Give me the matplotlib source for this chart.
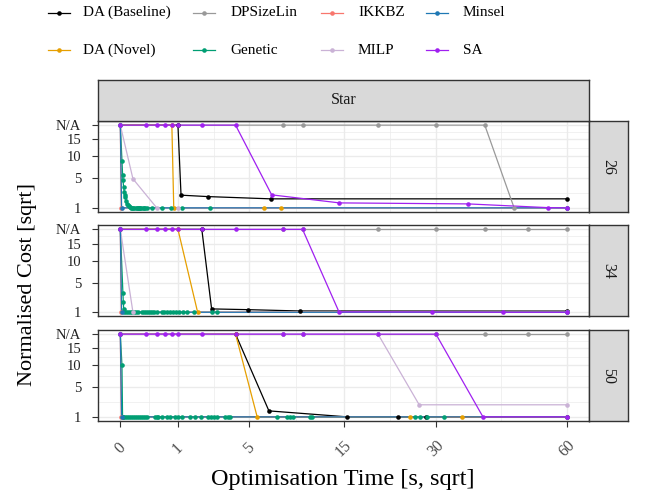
import numpy as np
import matplotlib.pyplot as plt
from matplotlib.lines import Line2D

plt.rcParams['font.family'] = ['Liberation Serif', 'DejaVu Serif']

# None = no result yet (shown as N/A)
algos = ["DA (Baseline)", "DA (Novel)", "DPSizeLin", "Genetic",
         "IKKBZ", "MILP", "Minsel", "SA"]
colors = {"DA (Baseline)": "#000000", "DA (Novel)": "#E69F00",
          "DPSizeLin": "#999999", "Genetic": "#009E73",
          "IKKBZ": "#F8766D", "MILP": "#CAB2D6",
          "Minsel": "#1F78B4", "SA": "#A020F0"}
facets = ["26", "34", "50"]
NA_LEVEL = 20

time_26 = {
    "DA (Baseline)": [0, 1.0, 1.11, 2.31, 6.83, 60],
    "DA (Novel)": [0, 0.8, 0.86, 6.2, 7.73, 60],
    "DPSizeLin": [0, 8, 10, 20, 30, 40, 46.7, 60],
    "Genetic": [0, 0.0008, 0.0016, 0.0021, 0.0033, 0.0048, 0.0056, 0.0075,
                0.0108, 0.0135, 0.0178, 0.021, 0.026, 0.032, 0.04, 0.05,
                0.06, 0.07, 0.08, 0.09, 0.1, 0.11, 0.12, 0.135, 0.15, 0.17,
                0.19, 0.21, 0.30, 0.52, 0.78, 1.16, 2.43],
    "IKKBZ": [0, 0.0003, 60],
    "MILP": [0, 0.048, 0.40, 1.0, 60],
    "Minsel": [0, 0.0005, 60],
    "SA": [0, 0.2, 0.4, 0.6, 0.8, 1, 2, 4, 6.9, 14.46, 36.4, 55, 60],
}
cost_26 = {
    "DA (Baseline)": [None, None, 2.35, 2.17, 1.90, 1.90],
    "DA (Novel)": [None, None, 1, 1, 1, 1],
    "DPSizeLin": [None, None, None, None, None, None, 1, 1],
    "Genetic": [None, 8.9, 5.63, 4.73, 3.49, 2.80, 2.43, 2.10, 1.64, 1.36,
                1.24, 1.15, 1.06, 1.02, 1, 1, 1, 1, 1, 1, 1, 1, 1, 1, 1, 1,
                1, 1, 1, 1, 1, 1, 1],
    "IKKBZ": [None, 1, 1],
    "MILP": [None, 4.92, 1, 1, 1],
    "Minsel": [None, 1, 1],
    "SA": [None, None, None, None, None, None, None, None,
           2.39, 1.46, 1.36, 1.02, 1.0],
}

time_34 = {
    "DA (Baseline)": [0, 2.0, 2.51, 4.90, 9.67, 60],
    "DA (Novel)": [0, 1.0, 1.80, 60],
    "DPSizeLin": [0, 8, 10, 20, 30, 40, 50, 60],
    "Genetic": [0, 0.002, 0.0027, 0.0035, 0.0048, 0.0108, 0.019, 0.030,
                0.043, 0.059, 0.077, 0.097, 0.142, 0.173, 0.203, 0.236, 0.27,
                0.31, 0.35, 0.405, 0.523, 0.582, 0.664, 0.752, 0.845, 0.943,
                1.047, 1.193, 1.338, 1.616, 2.527, 2.81],
    "IKKBZ": [0, 0.0003, 60],
    "MILP": [0, 0.048, 60],
    "Minsel": [0, 0.0005, 60],
    "SA": [0, 0.2, 0.4, 0.6, 0.8, 1, 2, 4, 8, 10, 14.4, 29.2, 44, 60],
}
cost_34 = {
    "DA (Baseline)": [None, None, 1.30, 1.23, 1.11, 1.10],
    "DA (Novel)": [None, None, 1, 1],
    "DPSizeLin": [None] * 8,
    "Genetic": [None, 3.31, 2.01, 1.26] + [1] * 28,
    "IKKBZ": [None, 1, 1],
    "MILP": [None, 1, 1],
    "Minsel": [None, 1, 1],
    "SA": [None] * 10 + [1.03, 1.02, 1.0, 1.0],
}

time_50 = {
    "DA (Baseline)": [0, 4, 6.65, 15.5, 23.3, 28.1, 60],
    "DA (Novel)": [0, 4, 5.64, 25.3, 35.1, 60],
    "DPSizeLin": [0, 8, 10, 20, 30, 40, 50, 60],
    "Genetic": [0, 0.0008, 0.0015, 0.0027, 0.0075, 0.0147, 0.024, 0.036,
                0.051, 0.068, 0.087, 0.109, 0.133, 0.159, 0.188, 0.214,
                0.368, 0.40, 0.434, 0.523, 0.655, 0.752, 0.91, 1.01, 1.145,
                1.473, 1.69, 1.957, 2.33, 2.49, 2.66, 2.81, 3.31, 3.51, 3.64,
                7.38, 8.35, 8.69, 9.03, 10.85, 11.05, 26.2, 27.1, 28.3, 31.6],
    "IKKBZ": [0, 0.0003, 60],
    "MILP": [0, 20, 26.9, 60],
    "Minsel": [0, 0.0005, 60],
    "SA": [0, 0.2, 0.4, 0.6, 0.8, 1, 2, 4, 8, 10, 20, 30, 39.6, 60],
}
cost_50 = {
    "DA (Baseline)": [None, None, 1.565, 1, 1, 1, 1],
    "DA (Novel)": [None, None, 1, 1, 1, 1],
    "DPSizeLin": [None] * 8,
    "Genetic": [None, 10.0] + [1] * 43,
    "IKKBZ": [None, 1, 1],
    "MILP": [None, None, 2.27, 2.27],
    "Minsel": [None, 1, 1],
    "SA": [None] * 12 + [1, 1],
}

times = [time_26, time_34, time_50]
costs = [cost_26, cost_34, cost_50]

x_breaks = [0, 1, 5, 15, 30, 60]
y_breaks = [1, 5, 10, 15, NA_LEVEL]
y_labels = ["1", "5", "10", "15", "N/A"]


def fwd(v):
    v = np.asarray(v, dtype=float)
    return np.sign(v) * np.sqrt(np.abs(v))


def inv(v):
    v = np.asarray(v, dtype=float)
    return np.sign(v) * np.square(v)


def minor_breaks(br):
    s = np.sqrt(br)
    return list(np.square((s[:-1] + s[1:]) / 2))


W, H = 668, 499
fig = plt.figure(figsize=(W / 100, H / 100), dpi=100)


def box(x0, y0, x1, y1):
    return fig.add_axes([x0 / W, 1 - y1 / H, (x1 - x0) / W, (y1 - y0) / H])


panel_rows = [(121, 212), (225.2, 316.4), (330, 421)]
left, right = 98, 589
edge = "#333333"

# sqrt ranges with ggplot's 5% expansion
sx = fwd([0, 60])
sy = fwd([1, NA_LEVEL])
ex, ey = 0.05 * (sx[1] - sx[0]), 0.05 * (sy[1] - sy[0])
xlim = inv([sx[0] - ex, sx[1] + ex])
ylim = inv([sy[0] - ey, sy[1] + ey])

for i, (y0, y1) in enumerate(panel_rows):
    ax = box(left, y0, right, y1)
    ax.set_xscale('function', functions=(fwd, inv))
    ax.set_yscale('function', functions=(fwd, inv))
    ax.set_xlim(*xlim)
    ax.set_ylim(*ylim)
    ax.set_xticks(x_breaks)
    ax.set_xticks(minor_breaks(x_breaks), minor=True)
    ax.set_yticks(y_breaks)
    ax.set_yticklabels(y_labels)
    ax.set_yticks(minor_breaks(y_breaks), minor=True)
    ax.grid(True, which='major', color='#EBEBEB', lw=1.0)
    ax.grid(True, which='minor', color='#EBEBEB', lw=0.5)
    ax.set_axisbelow(True)
    for sp in ax.spines.values():
        sp.set_color(edge)
        sp.set_linewidth(1.0)
    ax.tick_params(which='minor', length=0)
    ax.tick_params(axis='y', length=4, width=0.8, color=edge, pad=8,
                   labelsize=10.5, labelcolor='#222222')
    if i == len(panel_rows) - 1:
        ax.set_xticklabels([str(b) for b in x_breaks])
        ax.tick_params(axis='x', length=4, width=0.8, color=edge, pad=16,
                       labelsize=11.5, labelcolor='#4D4D4D')
        for lab in ax.get_xticklabels():
            lab.set_rotation(45)
            lab.set_ha('center')
            lab.set_va('center')
    else:
        ax.tick_params(axis='x', length=0, labelbottom=False)

    t_data, c_data = times[i], costs[i]
    # all lines first, then all points (like geom_line + geom_point)
    for a in algos:
        yv = [NA_LEVEL if c is None else c for c in c_data[a]]
        ax.plot(t_data[a], yv, color=colors[a], lw=0.9, zorder=2)
    for a in algos:
        yv = [NA_LEVEL if c is None else c for c in c_data[a]]
        ax.plot(t_data[a], yv, 'o', color=colors[a], ms=3.3, mew=0,
                zorder=3, clip_on=False)

    # right strip
    st = box(right, y0, 628, y1)
    st.set_facecolor('#D9D9D9')
    st.set_xticks([])
    st.set_yticks([])
    for sp in st.spines.values():
        sp.set_color(edge)
        sp.set_linewidth(1.0)
    st.text(0.5, 0.5, facets[i], rotation=-90, ha='center', va='center',
            fontsize=11.5, color='#1A1A1A', transform=st.transAxes)

# top strip
top = box(left, 80, right, 121)
top.set_facecolor('#D9D9D9')
top.set_xticks([])
top.set_yticks([])
for sp in top.spines.values():
    sp.set_color(edge)
    sp.set_linewidth(1.0)
top.text(0.5, 0.5, "Star", ha='center', va='center', fontsize=11.5,
         color='#1A1A1A', transform=top.transAxes)

# axis titles
fig.text(343 / W, 1 - 479 / H, "Optimisation Time [s, sqrt]", ha='center',
         va='center', fontsize=17.5)
fig.text(28 / W, 1 - 285 / H, "Normalised Cost [sqrt]", ha='center',
         va='center', rotation=90, fontsize=16)

# legend, two rows filled column by column
key_x = [47.7, 193, 321, 426]
label_x = [82.7, 230.7, 358, 462.7]
row_y = [12.7, 50]
for k, a in enumerate(algos):
    col, row = k // 2, k % 2
    yy = 1 - row_y[row] / H
    x0 = key_x[col]
    fig.add_artist(Line2D([x0 / W, (x0 + 22) / W], [yy, yy],
                          color=colors[a], lw=0.9))
    fig.add_artist(Line2D([(x0 + 11) / W], [yy], marker='o', ms=3.3, mew=0,
                          color=colors[a]))
    fig.text(label_x[col] / W, yy, a, ha='left', va='center', fontsize=11)

fig.savefig("out.png", dpi=100)
